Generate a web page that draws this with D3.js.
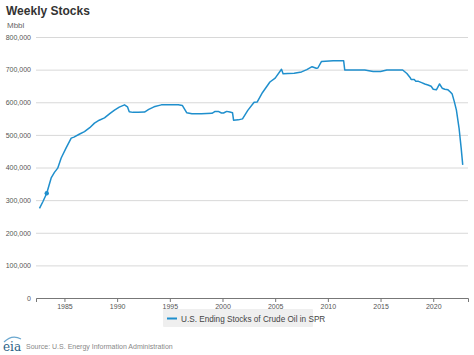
<!DOCTYPE html>
<html><head><meta charset="utf-8">
<script src="https://cdn.jsdelivr.net/npm/d3@7"></script>
<style>
body{margin:0;background:#fff;}
svg{display:block;font-family:"Liberation Sans",Arial,sans-serif;}
</style></head><body>
<svg id="c" width="474" height="355"></svg>
<script>
// Data (decimal year, thousand barrels -> shown in Mbbl)
const years = [1982.63,1982.95,1983.32,1983.74,1984.05,1984.36,1984.69,1985.16,1985.64,1985.9,1986.4,1986.9,1987.4,1987.85,1988.3,1988.8,1989.3,1989.75,1990.2,1990.7,1990.98,1991.15,1991.5,1992.0,1992.6,1993.0,1993.5,1994.2,1995.0,1995.8,1996.2,1996.6,1997.1,1998.0,1999.0,1999.3,1999.6,1999.9,2000.1,2000.4,2000.7,2000.95,2001.05,2001.5,2001.9,2002.4,2003.0,2003.3,2003.8,2004.5,2005.0,2005.6,2005.75,2006.2,2006.8,2007.5,2008.0,2008.5,2008.9,2009.05,2009.4,2010.5,2011.5,2011.6,2012.5,2013.5,2014.3,2015.0,2015.6,2016.5,2017.1,2017.5,2017.8,2017.9,2018.2,2018.35,2018.6,2018.9,2019.2,2019.5,2019.8,2020.0,2020.3,2020.45,2020.6,2020.85,2021.1,2021.4,2021.6,2021.8,2022.0,2022.2,2022.45,2022.65,2022.8];
const stocks = [275,295,321,368,385,398,429,460,490,493,502,510,522,536,545,552,565,576,585,592,586,571,569,569,570,578,586,592,592,592,590,568,565,565,566,572,572,567,567,572,570,568,545,546,549,575,600,601,630,662,674,701,687,688,689,693,700,709,704,705,725,727,727,699,699,699,694,694,699,699,699,688,676,670,670,664,664,660,656,653,649,640,638,647,656,643,640,638,632,625,602,576,521,460,408];
const yTicks = [0,100000,200000,300000,400000,500000,600000,700000,800000];
const xTicks = [1985,1990,1995,2000,2005,2010,2015,2020];
const seriesName = "U.S. Ending Stocks of Crude Oil in SPR";
const markerYear = 1983.32, markerValue = 321;

const svg = d3.select("#c");
const L = 36, R = 468, T = 37, B = 298;
const x = d3.scaleLinear().domain([1982.3, 2023.3]).range([L, R]);
const y = d3.scaleLinear().domain([0, 800000]).range([B, T]);

svg.append("text").attr("x",6).attr("y",15).text("Weekly Stocks")
  .attr("font-size",12).attr("font-weight","bold").attr("fill","#333");
svg.append("text").attr("x",7).attr("y",28).text("Mbbl")
  .attr("font-size",8).attr("fill","#666");

// grid + y labels
const yAxis = d3.axisLeft(y).tickValues(yTicks).tickSize(-(R-L)).tickFormat(d3.format(","));
const gy = svg.append("g").attr("transform",`translate(${L},0)`).call(yAxis);
gy.select(".domain").remove();
gy.selectAll(".tick line").attr("stroke","#d8d8d8").attr("stroke-width",1);
gy.selectAll(".tick text").attr("x",-5).attr("font-size",7).attr("fill","#555")
  .attr("font-family","Liberation Sans, Arial, sans-serif");

// x axis
const xAxis = d3.axisBottom(x).tickValues(xTicks).tickSize(4).tickFormat(d3.format("d"));
const gx = svg.append("g").attr("transform",`translate(0,${B})`).call(xAxis);
gx.select(".domain").attr("stroke","#777");
gx.selectAll(".tick line").attr("stroke","#777");
gx.selectAll(".tick text").attr("y",6).attr("font-size",7).attr("fill","#555")
  .attr("font-family","Liberation Sans, Arial, sans-serif");

// line
const data = years.map((yr,i)=>({yr, v: stocks[i]*1000}));
svg.append("path").datum(data)
  .attr("fill","none").attr("stroke","#1f8fcd").attr("stroke-width",1.5)
  .attr("stroke-linejoin","round")
  .attr("d", d3.line().x(d=>x(d.yr)).y(d=>y(d.v)));
svg.append("circle").attr("cx",x(markerYear)).attr("cy",y(markerValue*1000)).attr("r",2.2)
  .attr("fill","#1f8fcd");

// legend
const lg = svg.append("g");
lg.append("rect").attr("x",163).attr("y",309).attr("width",150).attr("height",18)
  .attr("fill","#efefef").attr("rx",1);
lg.append("line").attr("x1",167).attr("x2",177).attr("y1",318.5).attr("y2",318.5)
  .attr("stroke","#1f8fcd").attr("stroke-width",2);
lg.append("text").attr("x",181).attr("y",321.5).text(seriesName)
  .attr("font-size",8.2).attr("fill","#444");

// footer
const ft = svg.append("g");
ft.append("text").attr("x",3).attr("y",351).text("eia")
  .attr("font-family","DejaVu Serif, serif").attr("font-size",12).attr("fill","#2b5f86");
ft.append("path").attr("d","M4,342 Q12,334 21,339").attr("fill","none").attr("stroke","#6aa7cf").attr("stroke-width",1.2);
ft.append("text").attr("x",26).attr("y",349).text("Source: U.S. Energy Information Administration")
  .attr("font-size",7).attr("fill","#888");
</script>
</body></html>
